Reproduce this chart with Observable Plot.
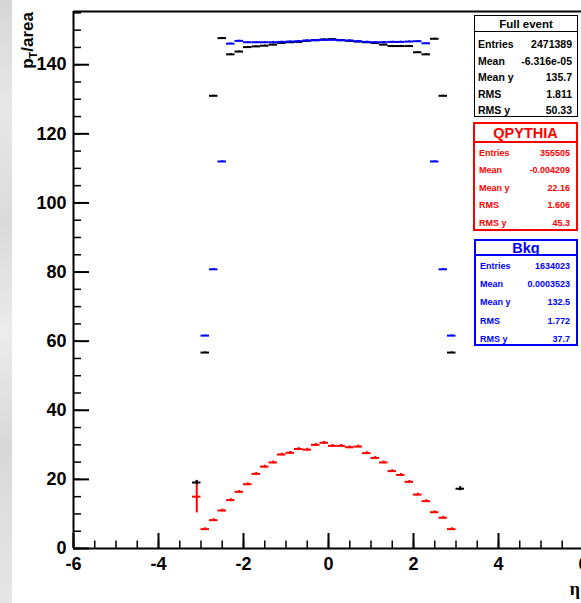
<!DOCTYPE html>
<html>
<head>
<meta charset="utf-8">
<script src="https://cdn.jsdelivr.net/npm/d3@7"></script>
<script src="https://cdn.jsdelivr.net/npm/@observablehq/plot@0.6"></script>
<style>
  html, body { margin: 0; padding: 0; background: #fff; }
  #chart { position: relative; width: 581px; height: 603px; overflow: hidden; background: #fff; }
  #strip {
    position: absolute; left: 0; top: 0; width: 12px; height: 603px;
    background: linear-gradient(180deg, #d6d6d6 0%, #e8e8e8 18%, #dadada 37%, #ececec 55%, #d8d8d8 74%, #e6e6e6 100%);
  }
  #chart svg { position: absolute; left: 0; top: 0; max-width: none; }
  .stat {
    position: absolute; box-sizing: border-box; background: #fff;
    font-family: "Liberation Sans", Arial, Helvetica, sans-serif; font-weight: bold;
  }
  .stat .title { position: absolute; left: 0; right: 0; text-align: center; box-sizing: border-box; }
  .stat .row { position: absolute; left: 0; right: 0; display: flex; justify-content: space-between; align-items: center; white-space: nowrap; box-sizing: border-box; }
</style>
</head>
<body>
<div id="chart"><div id="strip"></div></div>
<script>
// Bin centres in eta (bin width 0.2)
const etaCenters = [-3.1, -2.9, -2.7, -2.5, -2.3, -2.1, -1.9, -1.7, -1.5, -1.3, -1.1, -0.9, -0.7, -0.5, -0.3, -0.1,
                     0.1,  0.3,  0.5,  0.7,  0.9,  1.1,  1.3,  1.5,  1.7,  1.9,  2.1,  2.3,  2.5,  2.7,  2.9,  3.1];
const binHalfWidth = 0.1;

// Mean pT/area per bin, with errors
const fullEvent = [19.1, 56.7, 131.0, 147.7, 143.0, 143.8, 145.1, 145.3, 145.5, 145.8, 146.3, 146.5, 146.6, 146.9, 147.1, 147.3,
                   147.4, 147.1, 146.9, 146.7, 146.5, 146.3, 145.8, 145.4, 145.4, 145.4, 143.6, 143.0, 147.5, 131.0, 56.7, 17.3];
const fullEventErr = [0.6, 0.2, 0.2, 0.2, 0.2, 0.2, 0.2, 0.2, 0.2, 0.2, 0.2, 0.2, 0.2, 0.2, 0.2, 0.2,
                      0.2, 0.2, 0.2, 0.2, 0.2, 0.2, 0.2, 0.2, 0.2, 0.2, 0.2, 0.2, 0.2, 0.2, 0.2, 0.6];

const qpythia = [15.0, 5.6, 8.2, 11.0, 14.0, 16.4, 18.6, 21.6, 23.7, 24.9, 27.2, 27.7, 28.8, 28.6, 30.0, 30.6,
                 29.7, 29.7, 29.3, 29.5, 27.6, 26.2, 24.9, 22.4, 21.3, 19.3, 15.6, 13.7, 10.5, 8.9, 5.6, null];
const qpythiaErr = [4.7, 0.4, 0.4, 0.4, 0.4, 0.4, 0.4, 0.4, 0.4, 0.4, 0.4, 0.4, 0.4, 0.4, 0.4, 0.4,
                    0.4, 0.4, 0.4, 0.4, 0.4, 0.4, 0.4, 0.4, 0.4, 0.4, 0.4, 0.4, 0.4, 0.4, 0.4, null];

const bkg = [null, 61.6, 80.8, 112.0, 146.1, 146.9, 146.5, 146.5, 146.5, 146.5, 146.6, 146.7, 146.8, 147.0, 147.1, 147.2,
             147.2, 147.1, 147.0, 146.8, 146.6, 146.5, 146.5, 146.6, 146.6, 146.7, 146.8, 146.2, 112.0, 80.8, 61.6, null];
const bkgErr = [null, 0.2, 0.2, 0.2, 0.2, 0.2, 0.2, 0.2, 0.2, 0.2, 0.2, 0.2, 0.2, 0.2, 0.2, 0.2,
                0.2, 0.2, 0.2, 0.2, 0.2, 0.2, 0.2, 0.2, 0.2, 0.2, 0.2, 0.2, 0.2, 0.2, 0.2, null];

// Axis ticks
const xMajorTicks = [-6, -4, -2, 0, 2, 4, 6];
const yMajorTicks = [0, 20, 40, 60, 80, 100, 120, 140];
const xMinorStep = 0.5;
const yMinorStep = 5;

// Statistics boxes
const statLabels = ["Entries", "Mean", "Mean y", "RMS", "RMS y"];
const fullEventStats = ["2471389", "-6.316e-05", "135.7", "1.811", "50.33"];
const qpythiaStats = ["355505", "-0.004209", "22.16", "1.606", "45.3"];
const bkgStats = ["1634023", "0.0003523", "132.5", "1.772", "37.7"];

const xDomain = [-6, 6];
const yDomain = [0, 155.4];
const xRange = [73, 583];
const yRange = [548, 11];

const pxPerX = (xRange[1] - xRange[0]) / (xDomain[1] - xDomain[0]);
const pxPerY = (yRange[0] - yRange[1]) / (yDomain[1] - yDomain[0]);

const xMinorTicks = d3.range(xDomain[0], xDomain[1] + 1e-9, xMinorStep);
const yMinorTicks = d3.range(yDomain[0], yDomain[1], yMinorStep);

function series(values, errors) {
  return etaCenters.map((x, i) => ({x, v: values[i], e: errors[i]})).filter(d => d.v != null);
}

// Each bin: a horizontal bar across the bin plus its vertical error bar
function histMarks(data, color) {
  return [
    Plot.ruleY(data, {y: "v", x1: d => d.x - binHalfWidth, x2: d => d.x + binHalfWidth, stroke: color, strokeWidth: 2}),
    Plot.ruleX(data, {x: "x", y1: d => d.v - d.e, y2: d => d.v + d.e, stroke: color, strokeWidth: 2})
  ];
}

const fullData = series(fullEvent, fullEventErr);
const qpythiaData = series(qpythia, qpythiaErr);
const bkgData = series(bkg, bkgErr);

const majorLenX = 15 / pxPerY;   // x-axis tick length, in y units
const minorLenX = 7.5 / pxPerY;
const majorLenY = 16 / pxPerX;   // y-axis tick length, in x units
const minorLenY = 8 / pxPerX;

const plot = Plot.plot({
  width: 581,
  height: 603,
  marginLeft: 73,
  marginRight: 0,
  marginTop: 11,
  marginBottom: 55,
  x: {domain: xDomain, range: xRange},
  y: {domain: yDomain, range: yRange},
  style: {
    background: "transparent",
    fontFamily: "'Liberation Sans', Arial, Helvetica, sans-serif",
    fontWeight: "bold",
    overflow: "hidden"
  },
  marks: [
    // frame
    Plot.ruleX([xDomain[0]], {stroke: "#000", strokeWidth: 2}),
    Plot.ruleY([yDomain[0]], {stroke: "#000", strokeWidth: 2}),
    Plot.ruleY([yDomain[1]], {stroke: "#000", strokeWidth: 2}),
    // inward ticks
    Plot.ruleY(yMinorTicks, {y: d => d, x1: xDomain[0], x2: xDomain[0] + minorLenY, stroke: "#000", strokeWidth: 1.5}),
    Plot.ruleY(yMajorTicks, {y: d => d, x1: xDomain[0], x2: xDomain[0] + majorLenY, stroke: "#000", strokeWidth: 2}),
    Plot.ruleX(xMinorTicks, {x: d => d, y1: yDomain[0], y2: yDomain[0] + minorLenX, stroke: "#000", strokeWidth: 1.5}),
    Plot.ruleX(xMajorTicks, {x: d => d, y1: yDomain[0], y2: yDomain[0] + majorLenX, stroke: "#000", strokeWidth: 2}),
    // tick labels
    Plot.axisY(yMajorTicks, {tickSize: 0, tickPadding: 7, fontSize: 18, fontWeight: "bold", tickFormat: d => String(d), label: null}),
    Plot.axisX(xMajorTicks, {tickSize: 0, tickPadding: 9, fontSize: 18, fontWeight: "bold", tickFormat: d => String(d), label: null}),
    // histograms
    ...histMarks(qpythiaData, "#ff0000"),
    ...histMarks(fullData, "#000000"),
    ...histMarks(bkgData, "#0000ff")
  ]
});

const chart = document.getElementById("chart");
chart.appendChild(plot);

// Axis titles
const svg = d3.select(plot);
const yTitle = svg.append("text")
  .attr("transform", "translate(33,12) rotate(-90)")
  .attr("text-anchor", "end")
  .attr("font-family", "'Liberation Sans', Arial, Helvetica, sans-serif")
  .attr("font-weight", "bold")
  .attr("font-size", 17)
  .attr("fill", "#000");
yTitle.append("tspan").text("p");
yTitle.append("tspan").attr("font-size", 11).attr("dy", 4).text("T");
yTitle.append("tspan").attr("dy", -4).text("/area");

svg.append("text")
  .attr("x", 580)
  .attr("y", 595)
  .attr("text-anchor", "end")
  .attr("font-family", "'Liberation Serif', 'DejaVu Serif', serif")
  .attr("font-size", 18)
  .attr("fill", "#000")
  .text("η");

// Statistics boxes drawn over the frame
function statBox(title, values, color, box) {
  const div = document.createElement("div");
  div.className = "stat";
  Object.assign(div.style, {
    left: box.left + "px", top: box.top + "px", width: box.width + "px", height: box.height + "px",
    border: box.border + "px solid " + color, color: color
  });
  const t = document.createElement("div");
  t.className = "title";
  Object.assign(t.style, {
    top: "0px", height: box.titleH + "px", lineHeight: box.titleH + "px",
    fontSize: box.titleSize + "px", borderBottom: box.border + "px solid " + color
  });
  t.textContent = title;
  div.appendChild(t);
  statLabels.forEach((label, i) => {
    const r = document.createElement("div");
    r.className = "row";
    Object.assign(r.style, {
      top: (box.rowStart + i * box.rowH) + "px", height: box.rowH + "px",
      fontSize: box.rowSize + "px", paddingLeft: box.padL + "px", paddingRight: box.padR + "px"
    });
    const a = document.createElement("span"); a.textContent = label;
    const b = document.createElement("span"); b.textContent = values[i];
    r.appendChild(a); r.appendChild(b);
    div.appendChild(r);
  });
  chart.appendChild(div);
}

statBox("Full event", fullEventStats, "#000000",
  {left: 474, top: 15, width: 104, height: 102, border: 1, titleH: 16, titleSize: 11.5, rowStart: 20, rowH: 16.5, rowSize: 10.5, padL: 3, padR: 5});
statBox("QPYTHIA", qpythiaStats, "#ff0000",
  {left: 473, top: 122, width: 105, height: 109, border: 2, titleH: 19, titleSize: 14.5, rowStart: 20, rowH: 17.5, rowSize: 9, padL: 4, padR: 6});
statBox("Bkg", bkgStats, "#0000ff",
  {left: 474, top: 239, width: 104, height: 107, border: 2, titleH: 15, titleSize: 14.5, rowStart: 16, rowH: 18.2, rowSize: 9, padL: 4, padR: 6});
</script>
</body>
</html>
